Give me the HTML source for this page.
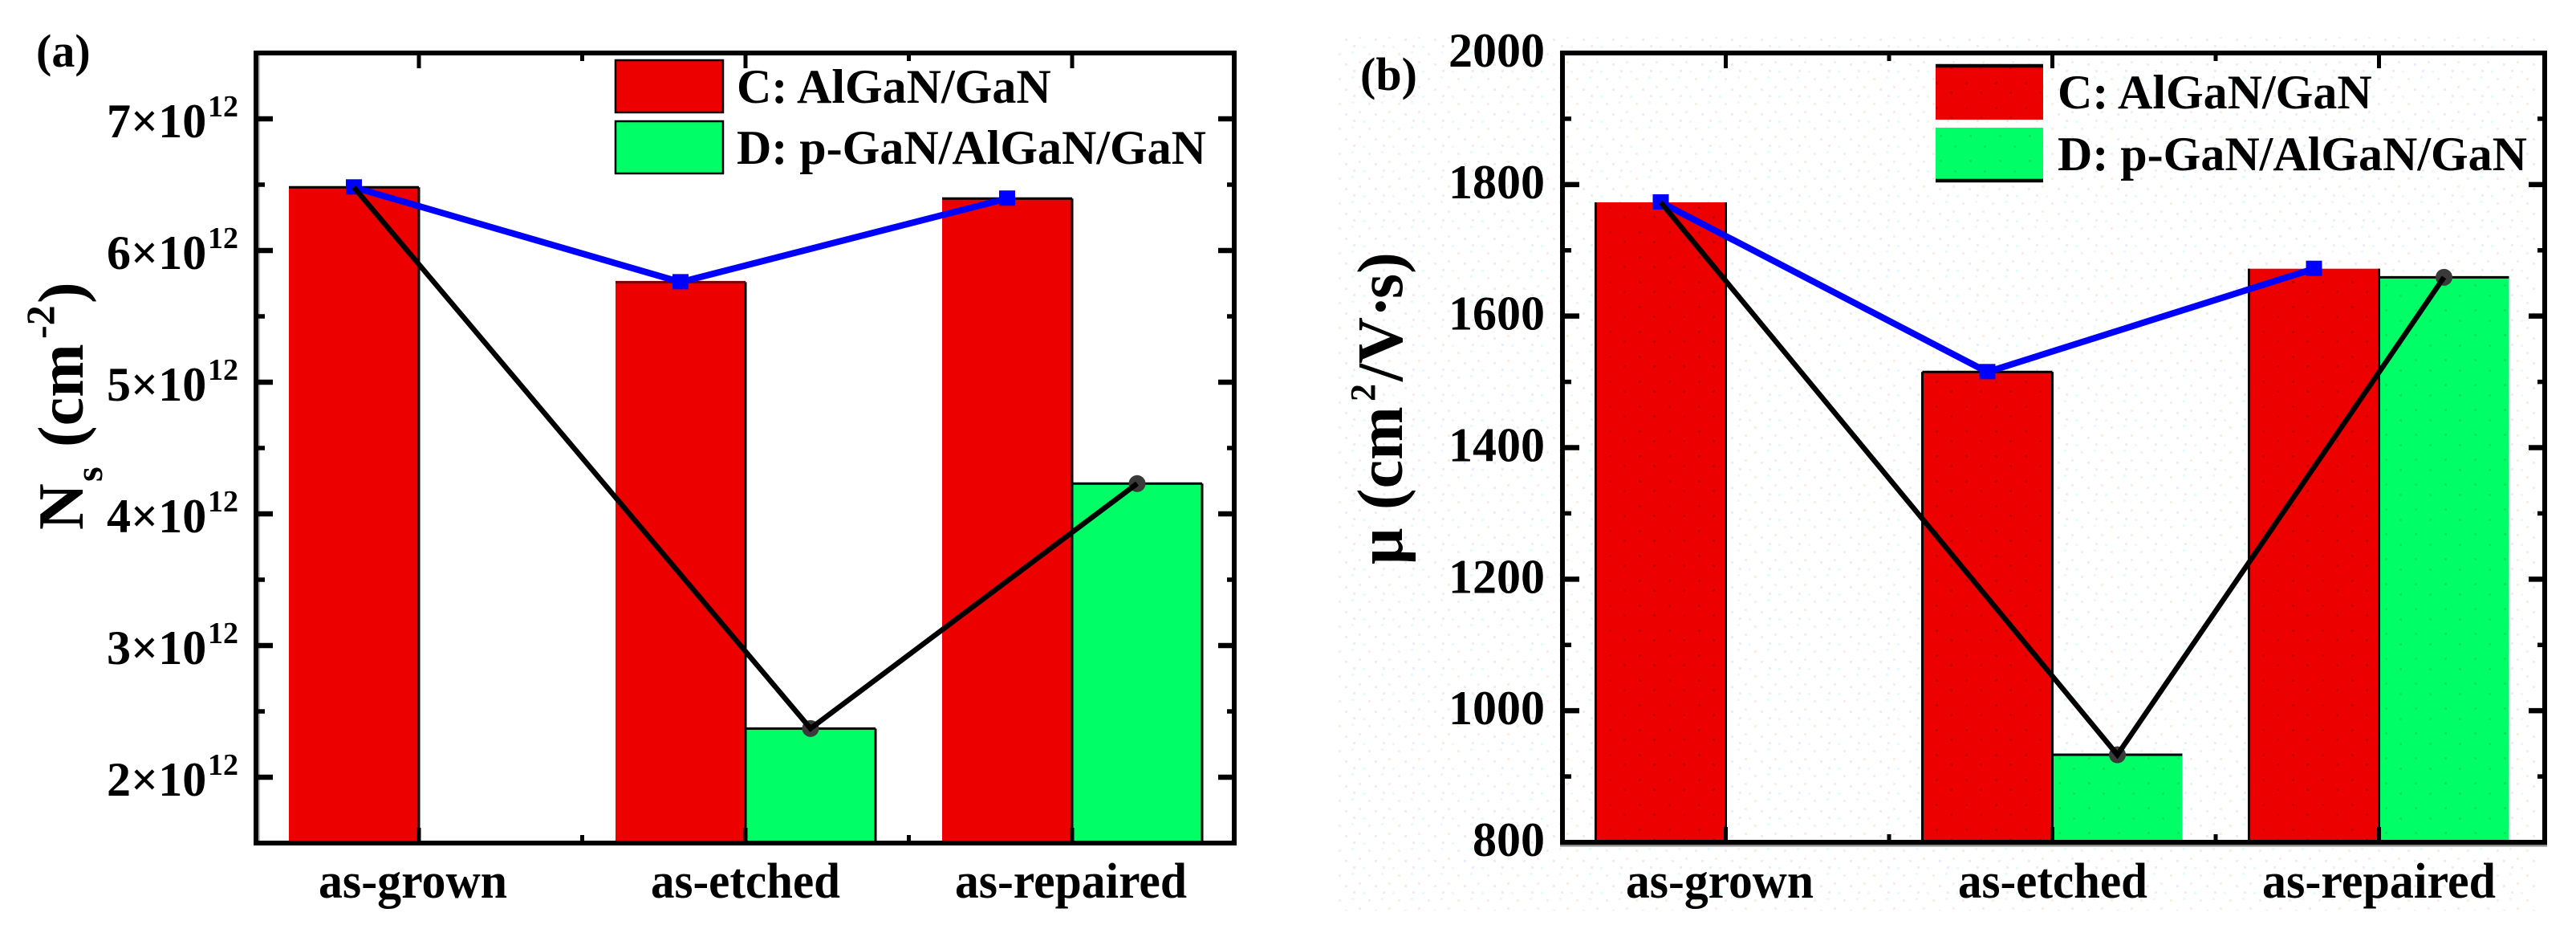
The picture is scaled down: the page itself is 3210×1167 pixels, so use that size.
<!DOCTYPE html>
<html lang="en">
<head>
<meta charset="utf-8">
<title>Ns and mobility comparison</title>
<style>
html,body{margin:0;padding:0;background:#fff;}
svg{display:block;}
text{font-family:"Liberation Serif","Times New Roman",serif;font-weight:bold;fill:#000;}
</style>
</head>
<body>
<svg id="figure" xmlns="http://www.w3.org/2000/svg" width="3210" height="1167" viewBox="0 0 3210 1167">
  <defs>
    <pattern id="noise" width="37" height="31" patternUnits="userSpaceOnUse">
      <rect x="3" y="4" width="3" height="3" fill="#fbeee4"/>
      <rect x="19" y="2" width="3" height="3" fill="#e6fbfd"/>
      <rect x="11" y="17" width="3" height="3" fill="#ececfb"/>
      <rect x="28" y="14" width="3" height="3" fill="#fbeee4"/>
      <rect x="33" y="26" width="3" height="3" fill="#e6fbfd"/>
      <rect x="21" y="25" width="3" height="3" fill="#ececfb"/>
    </pattern>
    <pattern id="noise-bar" width="37" height="31" patternUnits="userSpaceOnUse">
      <rect x="7" y="9" width="3" height="3" fill="#c80000"/>
      <rect x="25" y="21" width="3" height="3" fill="#c80000"/>
    </pattern>
    <pattern id="noise-green" width="37" height="31" patternUnits="userSpaceOnUse">
      <rect x="12" y="13" width="3" height="3" fill="#00e85c"/>
      <rect x="30" y="26" width="3" height="3" fill="#00e85c"/>
    </pattern>
  </defs>
</svg>
<script>
const categories = ['as-grown', 'as-etched', 'as-repaired'];
const seriesNames = ['C: AlGaN/GaN', 'D: p-GaN/AlGaN/GaN'];

const nsAlGaN = [6.48, 5.76, 6.395];
const nsPGaN = [null, 2.37, 4.23];
const nsLineAlGaN = [6.48, 5.76, 6.395];
const nsLinePGaN = [6.48, 2.37, 4.23];
const nsMajorTicks = [2, 3, 4, 5, 6, 7];
const nsMinorTicks = [2.5, 3.5, 4.5, 5.5, 6.5];
const nsTickExponent = '12';

const muAlGaN = [1773, 1515, 1672];
const muPGaN = [null, 933, 1659];
const muLineAlGaN = [1773, 1515, 1672];
const muLinePGaN = [1773, 933, 1659];
const muMajorTicks = [800, 1000, 1200, 1400, 1600, 1800, 2000];
const muMinorTicks = [900, 1100, 1300, 1500, 1700, 1900];

const svg = document.getElementById('figure');
const NS = 'http://www.w3.org/2000/svg';
const RED = '#ec0000';
const GREEN = '#00ff66';

function make(parent, tag, attrs, content) {
  const n = document.createElementNS(NS, tag);
  for (const k in attrs) n.setAttribute(k, attrs[k]);
  if (content !== undefined) n.textContent = content;
  parent.appendChild(n);
  return n;
}
function hLine(parent, x1, x2, y, w, color) {
  return make(parent, 'line', {x1: x1, x2: x2, y1: y, y2: y, stroke: color || '#000', 'stroke-width': w});
}
function vLine(parent, x, y1, y2, w, color) {
  return make(parent, 'line', {x1: x, x2: x, y1: y1, y2: y2, stroke: color || '#000', 'stroke-width': w});
}

function drawPanel(cfg) {
  const yScale = v => cfg.bottom - (v - cfg.yMin) * (cfg.bottom - cfg.top) / (cfg.yMax - cfg.yMin);
  const xScale = i => cfg.tick0 + i * cfg.step;
  const g = make(svg, 'g', {});
  
  

  const barsG = make(g, 'g', {});
  
  
  cfg.red.forEach((v, i) => {
    const x = xScale(i) - cfg.barW;
    const y = yScale(v);
    const bar = make(barsG, 'rect', {x: x, y: y, width: cfg.barW, height: cfg.bottom - y, fill: RED});
    
    
    if (cfg.dotted) make(barsG, 'rect', {x: x, y: y, width: cfg.barW, height: cfg.bottom - y, fill: 'url(#noise-bar)'});
    vLine(barsG, x + cfg.barW, y, cfg.bottom, 3);
    if (cfg.dotted) vLine(barsG, x, y, cfg.bottom, 3);
    if (!cfg.dotted || i === 1) hLine(barsG, x, x + cfg.barW, y, 3, i === 1 && !cfg.dotted ? '#700' : '#000');
  });
  cfg.green.forEach((v, i) => {
    if (v === null) return;
    const x = xScale(i);
    const y = yScale(v);
    const bar = make(barsG, 'rect', {x: x, y: y, width: cfg.barW, height: cfg.bottom - y, fill: GREEN});
    
    
    if (cfg.dotted) make(barsG, 'rect', {x: x, y: y, width: cfg.barW, height: cfg.bottom - y, fill: 'url(#noise-green)'});
    hLine(barsG, x, x + cfg.barW, y, 3);
    if (!cfg.dotted) vLine(barsG, x + cfg.barW, y, cfg.bottom, 3);
    vLine(barsG, x, y, cfg.bottom, 3);
  });

  const lineOffset = cfg.barW / 2;
  const ptsBlue = cfg.lineRed.map((v, i) => (xScale(i) - lineOffset) + ',' + yScale(v)).join(' ');
  const ptsBlack = cfg.lineGreen.map((v, i) => (xScale(i) + (i === 0 ? -lineOffset : lineOffset)) + ',' + yScale(v)).join(' ');

  cfg.lineGreen.forEach((v, i) => {
    if (i === 0) return;
    const m = make(g, 'circle', {cx: xScale(i) + lineOffset, cy: yScale(v), r: 10.5, fill: '#3a3a3a'});
    
    
  });
  const blue = make(g, 'polyline', {points: ptsBlue, fill: 'none', stroke: '#0000ff', 'stroke-width': 8});
  
  
  cfg.lineRed.forEach((v, i) => {
    const m = make(g, 'rect', {x: xScale(i) - lineOffset - 10, y: yScale(v) - 10, width: 20, height: 19, fill: '#0000ff'});
    
    
  });
  const black = make(g, 'polyline', {points: ptsBlack, fill: 'none', stroke: '#000', 'stroke-width': 6.5});
  
  

  // frame
  const frame = make(g, 'g', {});
  
  
  if (cfg.shadow) {
    hLine(frame, cfg.left - 3, cfg.right + 3, cfg.bottom + 4, 3, '#8a8a8a');
  } else {
    vLine(frame, cfg.left + 4, cfg.top, cfg.bottom, 2, '#bbb');
  }
  vLine(frame, cfg.left, cfg.top - 3, cfg.bottom + 3, 6);
  vLine(frame, cfg.right, cfg.top - 3, cfg.bottom + 3, 6);
  hLine(frame, cfg.left - 3, cfg.right + 3, cfg.top, 6);
  hLine(frame, cfg.left - 3, cfg.right + 3, cfg.bottom, 6);

  // y ticks
  const yAxis = make(g, 'g', {});
  
  
  cfg.major.forEach(v => {
    const y = yScale(v);
    if (v !== cfg.yMin && v !== cfg.yMax) {
      hLine(yAxis, cfg.left, cfg.left + 21, y, 6.5);
      hLine(yAxis, cfg.right - 20, cfg.right, y, 6.5);
    }
    const label = make(yAxis, 'text', {'font-size': 60});
    
    
    if (cfg.exponent) {
      label.setAttribute('x', cfg.labelX);
      label.setAttribute('y', y + 23);
      make(label, 'tspan', {}, v + '×10');
      make(label, 'tspan', {'font-size': 38, x: 259, y: y - 3}, cfg.exponent);
    } else {
      label.setAttribute('x', cfg.labelX);
      label.setAttribute('y', y + 17);
      label.setAttribute('text-anchor', 'end');
      label.textContent = String(v);
    }
  });
  cfg.minor.forEach(v => {
    const y = yScale(v);
    hLine(yAxis, cfg.left, cfg.left + 11, y, 5.5);
    hLine(yAxis, cfg.right - 9, cfg.right, y, 5.5);
  });

  // x ticks and labels
  const xAxis = make(g, 'g', {});
  
  
  categories.forEach((c, i) => {
    const x = xScale(i);
    vLine(xAxis, x, cfg.top, cfg.top + 19, 5);
    vLine(xAxis, x, cfg.bottom - 19, cfg.bottom, 5);
    if (i < categories.length - 1) {
      const mx = x + cfg.step / 2;
      vLine(xAxis, mx, cfg.top, cfg.top + 10, 5);
      vLine(xAxis, mx, cfg.bottom - 10, cfg.bottom, 5);
    }
    const t = make(xAxis, 'text', {x: cfg.xLabels[i][0], y: 1118, 'font-size': 62, textLength: cfg.xLabels[i][1], lengthAdjust: 'spacingAndGlyphs'}, c);
    
    
  });

  // legend
  const legend = make(g, 'g', {});
  
  
  seriesNames.forEach((name, i) => {
    const L = cfg.legend[i];
    const sw = make(legend, 'rect', {x: L.x, y: L.y, width: L.w, height: L.h, fill: i === 0 ? RED : GREEN});
    if (!cfg.dotted) { sw.setAttribute('stroke', '#000'); sw.setAttribute('stroke-width', 2.5); }
    
    
    if (cfg.dotted) {
      make(legend, 'rect', {x: L.x, y: L.y, width: L.w, height: L.h, fill: i === 0 ? 'url(#noise-bar)' : 'url(#noise-green)'});
      hLine(legend, L.x, L.x + L.w, i === 0 ? L.y : L.y + L.h, 4.5);
    }
    const t = make(legend, 'text', {x: L.tx, y: L.ty, 'font-size': 60}, name);
    
    
  });
}

// faint scan-noise background of panel b
const noiseBg = make(svg, 'rect', {x: 1668, y: 46, width: 1494, height: 1088, fill: 'url(#noise)'});



drawPanel({
  id: 'panel-a', left: 319, right: 1538, top: 66, bottom: 1050, yMin: 1.5, yMax: 7.5,
  tick0: 522, step: 407, barW: 162, red: nsAlGaN, green: nsPGaN, lineRed: nsLineAlGaN, lineGreen: nsLinePGaN,
  major: nsMajorTicks, minor: nsMinorTicks, exponent: nsTickExponent, labelX: 133, dotted: false, shadow: false,
  xLabels: [[397, 235], [811, 236], [1190, 289]],
  legend: [
    {x: 767, y: 75, w: 134, h: 65, tx: 918, ty: 128},
    {x: 767, y: 151, w: 134, h: 65, tx: 918, ty: 204}
  ]
});
drawPanel({
  id: 'panel-b', left: 1947, right: 3171, top: 66, bottom: 1049, yMin: 800, yMax: 2000,
  tick0: 2150.5, step: 407, barW: 162, red: muAlGaN, green: muPGaN, lineRed: muLineAlGaN, lineGreen: muLinePGaN,
  major: muMajorTicks, minor: muMinorTicks, exponent: null, labelX: 1925, dotted: true, shadow: true,
  xLabels: [[2026, 234], [2440, 236], [2819, 291]],
  legend: [
    {x: 2412, y: 82, w: 134, h: 67, tx: 2564, ty: 135},
    {x: 2412, y: 159, w: 134, h: 66, tx: 2564, ty: 212}
  ]
});

// panel tags
const tagA = make(svg, 'text', {x: 45, y: 83, 'font-size': 58}, '(a)');


const tagB = make(svg, 'text', {x: 1695, y: 112, 'font-size': 58}, '(b)');



// y titles
const titleA = make(svg, 'text', {transform: 'translate(103,660) rotate(-90)', 'font-size': 80});


make(titleA, 'tspan', {x: 0, y: 0}, 'N');
make(titleA, 'tspan', {x: 60, y: 24, 'font-size': 48}, 's');
make(titleA, 'tspan', {x: 103, y: 0}, '(cm');
make(titleA, 'tspan', {x: 238, y: -36, 'font-size': 50}, '-2');
make(titleA, 'tspan', {x: 282, y: 0}, ')');

const titleB = make(svg, 'text', {transform: 'translate(1747,703) rotate(-90)', 'font-size': 80});


make(titleB, 'tspan', {x: 0, y: 0}, 'μ');
make(titleB, 'tspan', {x: 68, y: 0}, '(cm');
make(titleB, 'tspan', {x: 203, y: -34, 'font-size': 44}, '2');
make(titleB, 'tspan', {x: 228, y: 0}, '/V');
make(titleB, 'tspan', {x: 308, y: 0}, '·');
make(titleB, 'tspan', {x: 331, y: 0}, 's)');
</script>
</body>
</html>
